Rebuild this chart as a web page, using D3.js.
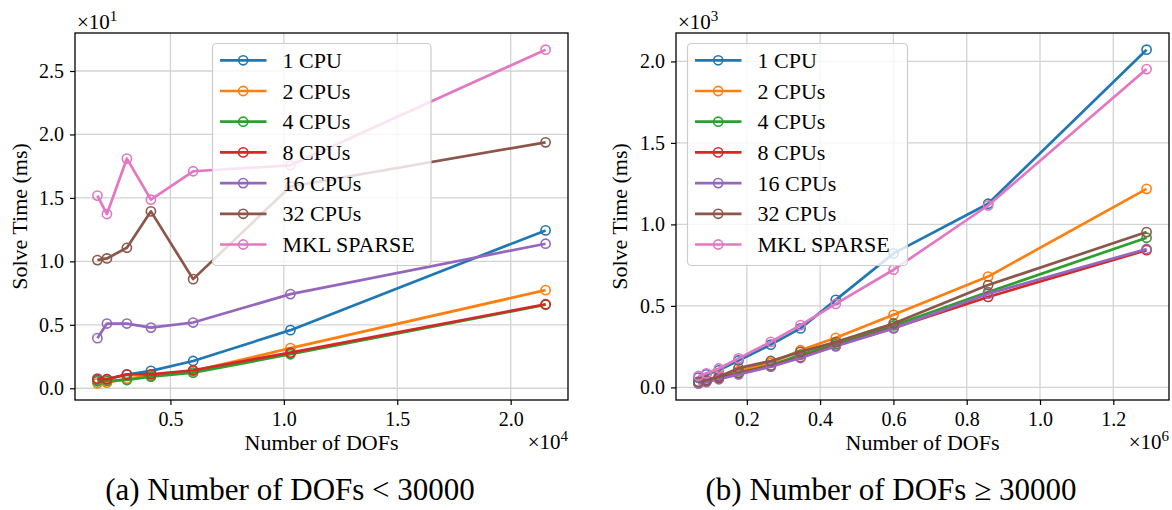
<!DOCTYPE html>
<html>
<head>
<meta charset="utf-8">
<script src="https://cdn.jsdelivr.net/npm/d3@7"></script>
<style>
  body { margin: 0; background: #fff; }
  text { font-family: "Liberation Serif", "Times New Roman", serif; fill: #000; }
</style>
</head>
<body>
<svg id="chart" width="1172" height="510"></svg>
<script>
// series names + colours (matplotlib tab10)
var labels = ["1 CPU", "2 CPUs", "4 CPUs", "8 CPUs", "16 CPUs", "32 CPUs", "MKL SPARSE"]
var colors = ["#1f77b4", "#ff7f0e", "#2ca02c", "#d62728", "#9467bd", "#8c564b", "#e377c2"]

// (a) DOFs < 30000 ; solve times in ms
var dofsSmall = [1780, 2200, 3080, 4140, 6000, 10290, 21540]
var cpu1Small  = [0.65, 0.72, 1.08, 1.37, 2.15, 4.58, 12.44]
var cpu2Small  = [0.39, 0.44, 0.76, 0.97, 1.35, 3.16, 7.73]
var cpu4Small  = [0.55, 0.58, 0.65, 0.92, 1.23, 2.68, 6.58]
var cpu8Small  = [0.76, 0.71, 1.10, 1.10, 1.42, 2.81, 6.62]
var cpu16Small = [3.95, 5.10, 5.10, 4.78, 5.18, 7.42, 11.39]
var cpu32Small = [10.10, 10.23, 11.07, 13.94, 8.60, 15.90, 19.38]
var mklSmall   = [15.18, 13.73, 18.10, 14.86, 17.10, 17.57, 26.68]

// (b) DOFs >= 30000 ; solve times in ms
var dofsLarge = [67900, 89500, 123600, 177300, 265400, 346400, 442700, 600400, 858400, 1290800]
var cpu1Large  = [60, 80, 105, 165, 262, 362, 537, 822, 1127, 2072]
var cpu2Large  = [30, 45, 70, 100, 150, 228, 304, 445, 680, 1218]
var cpu4Large  = [30, 40, 60, 90, 135, 200, 265, 380, 585, 918]
var cpu8Large  = [25, 35, 55, 85, 130, 185, 255, 365, 555, 842]
var cpu16Large = [25, 33, 50, 80, 127, 180, 252, 362, 575, 849]
var cpu32Large = [35, 45, 65, 118, 162, 218, 278, 392, 628, 953]
var mklLarge   = [70, 86, 116, 178, 279, 382, 512, 722, 1116, 1953]

// tick labels
var xTicksSmall = [0.5, 1.0, 1.5, 2.0]        // x 1e4
var yTicksSmall = [0.0, 0.5, 1.0, 1.5, 2.0, 2.5] // x 1e1
var xTicksLarge = [0.2, 0.4, 0.6, 0.8, 1.0, 1.2] // x 1e6
var yTicksLarge = [0.0, 0.5, 1.0, 1.5, 2.0]      // x 1e3

var svg = d3.select("#chart")
svg.append("rect").attr("width", 1172).attr("height", 510).attr("fill", "#fff")

// matplotlib style 5% margins
function padded(ext) {
    var m = (ext[1] - ext[0]) * 0.05
    return [ext[0] - m, ext[1] + m]
}

function drawPanel(p) {
    var g = svg.append("g")
    var top = 33, bottom = 400

    var x = d3.scaleLinear().domain(padded(d3.extent(p.dofs))).range([p.left, p.right])
    var y = d3.scaleLinear().domain(padded(d3.extent(d3.merge(p.series)))).range([bottom, top])

    // grid
    g.selectAll(".gx").data(p.xTicks).enter().append("line")
        .attr("x1", d => x(d * p.xExp)).attr("x2", d => x(d * p.xExp))
        .attr("y1", top).attr("y2", bottom)
        .attr("stroke", "#d3d3d3").attr("stroke-width", 1.3)
    g.selectAll(".gy").data(p.yTicks).enter().append("line")
        .attr("x1", p.left).attr("x2", p.right)
        .attr("y1", d => y(d * p.yExp)).attr("y2", d => y(d * p.yExp))
        .attr("stroke", "#d3d3d3").attr("stroke-width", 1.3)

    // lines + open circle markers
    var line = d3.line().x((d, i) => x(p.dofs[i])).y(d => y(d))
    p.series.forEach(function(s, k) {
        g.append("path").datum(s)
            .attr("d", line)
            .attr("fill", "none")
            .attr("stroke", colors[k])
            .attr("stroke-width", 2.7)
            .attr("stroke-linejoin", "round")
        g.selectAll(".m" + k).data(s).enter().append("circle")
            .attr("cx", (d, i) => x(p.dofs[i]))
            .attr("cy", d => y(d))
            .attr("r", 4.6)
            .attr("fill", "none")
            .attr("stroke", colors[k])
            .attr("stroke-width", 1.6)
    })

    // axes
    var xAxis = g.append("g").attr("transform", "translate(0," + bottom + ")")
        .call(d3.axisBottom(x).tickValues(p.xTicks.map(d => d * p.xExp))
            .tickFormat(d => (d / p.xExp).toFixed(1)).tickSize(5).tickSizeOuter(0).tickPadding(7))
    var yAxis = g.append("g").attr("transform", "translate(" + p.left + ",0)")
        .call(d3.axisLeft(y).tickValues(p.yTicks.map(d => d * p.yExp))
            .tickFormat(d => (d / p.yExp).toFixed(1)).tickSize(5).tickSizeOuter(0).tickPadding(6))
    ;[xAxis, yAxis].forEach(function(a) {
        a.attr("font-family", null).attr("font-size", null)
        a.select(".domain").remove()
        a.selectAll("line").attr("stroke", "#000").attr("stroke-width", 1.2)
        a.selectAll("text").style("font-size", "20px")
    })

    // frame
    g.append("rect")
        .attr("x", p.left).attr("y", top)
        .attr("width", p.right - p.left).attr("height", bottom - top)
        .attr("fill", "none").attr("stroke", "#000").attr("stroke-width", 1.3)

    // axis labels
    g.append("text").attr("x", (p.left + p.right) / 2).attr("y", 450)
        .attr("text-anchor", "middle").style("font-size", "22px").text("Number of DOFs")
    g.append("text").attr("transform", "translate(" + p.ylabX + "," + (top + bottom) / 2 + ") rotate(-90)")
        .attr("text-anchor", "middle").style("font-size", "22px").text("Solve Time (ms)")

    // offset texts
    var ox = g.append("text").attr("x", p.right).attr("y", 449)
        .attr("text-anchor", "end").style("font-size", "21px")
    ox.append("tspan").text("×10")
    ox.append("tspan").attr("dy", -8).style("font-size", "15px").text(p.xPow)
    var oy = g.append("text").attr("x", p.left + 2).attr("y", 29).style("font-size", "21px")
    oy.append("tspan").text("×10")
    oy.append("tspan").attr("dy", -8).style("font-size", "15px").text(p.yPow)

    // legend
    var lg = g.append("g")
    lg.append("rect")
        .attr("x", p.legX).attr("y", 43.5)
        .attr("width", p.legW).attr("height", 222)
        .attr("rx", 4)
        .attr("fill", "#fff").attr("fill-opacity", 0.8)
        .attr("stroke", "#cccccc").attr("stroke-width", 1.2)
    labels.forEach(function(lab, k) {
        var cy = 60.3 + k * 30.7
        lg.append("line")
            .attr("x1", p.legX + 7.5).attr("x2", p.legX + 54)
            .attr("y1", cy).attr("y2", cy)
            .attr("stroke", colors[k]).attr("stroke-width", 2.7)
        lg.append("circle")
            .attr("cx", p.legX + 30.7).attr("cy", cy).attr("r", 4.6)
            .attr("fill", "none").attr("stroke", colors[k]).attr("stroke-width", 1.6)
        lg.append("text")
            .attr("x", p.legX + 70).attr("y", cy + 7.5)
            .style("font-size", "22px").text(lab)
    })

    // caption
    g.append("text").attr("x", p.capX).attr("y", 500)
        .attr("text-anchor", "middle").style("font-size", "31px").text(p.caption)
}

drawPanel({
    dofs: dofsSmall,
    series: [cpu1Small, cpu2Small, cpu4Small, cpu8Small, cpu16Small, cpu32Small, mklSmall],
    left: 75, right: 568,
    xTicks: xTicksSmall, xExp: 1e4, xPow: "4",
    yTicks: yTicksSmall, yExp: 10, yPow: "1",
    ylabX: 27,
    legX: 212.5, legW: 218.5,
    capX: 290,
    caption: "(a) Number of DOFs < 30000"
})

drawPanel({
    dofs: dofsLarge,
    series: [cpu1Large, cpu2Large, cpu4Large, cpu8Large, cpu16Large, cpu32Large, mklLarge],
    left: 676, right: 1169,
    xTicks: xTicksLarge, xExp: 1e6, xPow: "6",
    yTicks: yTicksLarge, yExp: 1e3, yPow: "3",
    ylabX: 627,
    legX: 687.5, legW: 220,
    capX: 891,
    caption: "(b) Number of DOFs ≥ 30000"
})
</script>
</body>
</html>
